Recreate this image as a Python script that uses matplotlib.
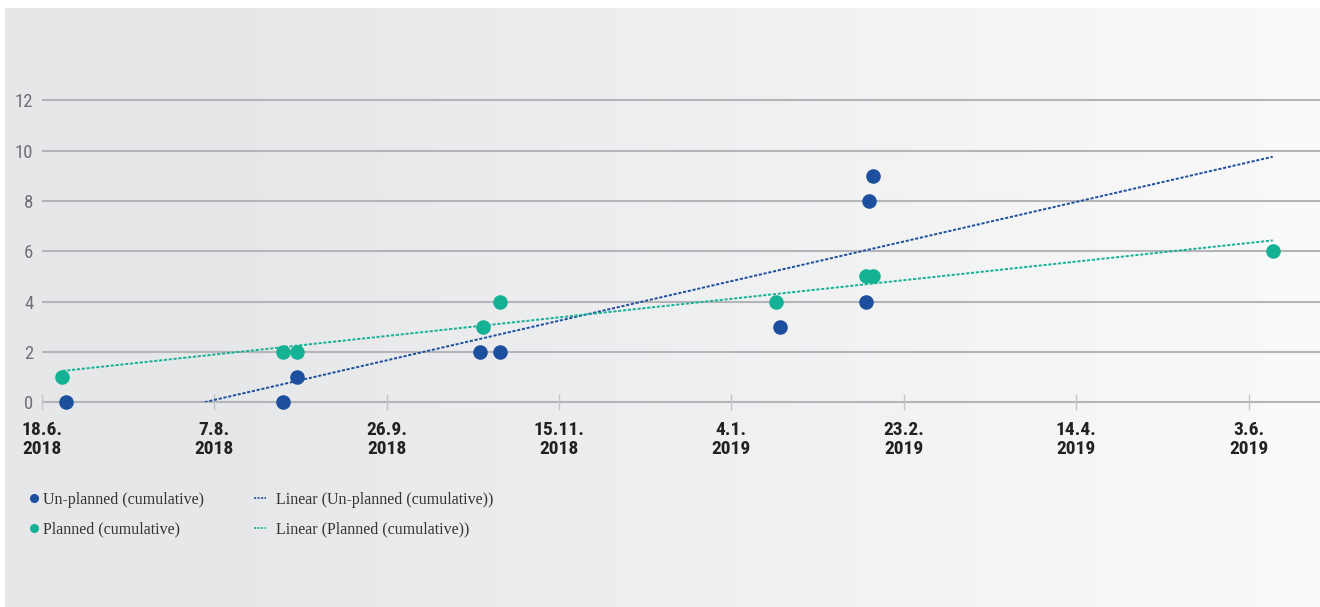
import datetime as dt
import numpy as np
import matplotlib
matplotlib.use("Agg")
import matplotlib.pyplot as plt
import matplotlib.dates as mdates
from matplotlib import font_manager
from matplotlib.patches import Rectangle

# data
unplanned_dates = ["2018-06-25", "2018-08-27", "2018-08-31", "2018-10-23", "2018-10-29",
                   "2019-01-18", "2019-02-12", "2019-02-13", "2019-02-14"]
unplanned_vals = [0, 0, 1, 2, 2, 3, 4, 8, 9]

planned_dates = ["2018-06-24", "2018-08-27", "2018-08-31", "2018-10-24", "2018-10-29",
                 "2019-01-17", "2019-02-12", "2019-02-14", "2019-06-10"]
planned_vals = [1, 2, 2, 3, 4, 4, 5, 5, 6]

tick_dates = ["2018-06-18", "2018-08-07", "2018-09-26", "2018-11-15",
              "2019-01-04", "2019-02-23", "2019-04-14", "2019-06-03"]
tick_labels = ["18.6.\n2018", "7.8.\n2018", "26.9.\n2018", "15.11.\n2018",
               "4.1.\n2019", "23.2.\n2019", "14.4.\n2019", "3.6.\n2019"]
y_ticks = [0, 2, 4, 6, 8, 10, 12]

labels = ["Un-planned (cumulative)", "Planned (cumulative)",
          "Linear (Un-planned (cumulative))", "Linear (Planned (cumulative))"]

BLUE = "#1d4f9f"
TEAL = "#15b195"
GRID = "#b4b5b8"


def pick(names):
    have = {f.name for f in font_manager.fontManager.ttflist}
    for n in names:
        if n in have:
            return n
    return "DejaVu Sans"


sans = pick(["Liberation Sans Narrow", "Roboto Condensed", "Roboto", "DejaVu Sans"])
serif = pick(["Liberation Serif", "DejaVu Serif"])

to_num = lambda ds: mdates.date2num([dt.datetime.strptime(d, "%Y-%m-%d") for d in ds])
ux, px_ = to_num(unplanned_dates), to_num(planned_dates)
tx = to_num(tick_dates)

fig = plt.figure(figsize=(13.2, 6.07), dpi=100)
fig.patch.set_facecolor("white")

# gradient panel behind everything
bg = fig.add_axes([5 / 1320, 0, 1315 / 1320, 599 / 607], zorder=0)
grad = np.linspace(0, 1, 256)
c0 = np.array([0.902, 0.906, 0.914])
c1 = np.array([0.980, 0.980, 0.980])
ramp = np.clip((grad - 0.15) / 0.85, 0, 1)
img = c0[None, :] * (1 - ramp[:, None]) + c1[None, :] * ramp[:, None]
bg.imshow(img[None, :, :], aspect="auto", extent=[0, 1, 0, 1])
bg.set_axis_off()

x0 = tx[0]
ax = fig.add_axes([41.7 / 1320, (607 - 422.4) / 607, 1278.3 / 1320, 342.2 / 607], zorder=1)
ax.patch.set_alpha(0)
ax.set_xlim(x0, x0 + 370.7)
ax.set_ylim(-0.8, 12.8)

for y in y_ticks:
    ax.axhline(y, color=GRID, lw=1.5, zorder=1)

# linear trends over the date span of the data
xs = np.array([min(px_.min(), ux.min()), max(px_.max(), ux.max())])
clip = Rectangle((x0, 0), 400, 13, transform=ax.transData)
for xv, yv, col in [(ux, unplanned_vals, BLUE), (px_, planned_vals, TEAL)]:
    k, b = np.polyfit(xv - x0, yv, 1)
    ln, = ax.plot(xs, k * (xs - x0) + b, color=col, lw=1.4, ls=(0, (1.6, 0.9)), zorder=2)
    ln.set_clip_path(clip)

su = ax.scatter(ux, unplanned_vals, s=110, color=BLUE, zorder=3, linewidths=0)
sp = ax.scatter(px_, planned_vals, s=110, color=TEAL, zorder=3, linewidths=0)

for s in ["top", "right", "left", "bottom"]:
    ax.spines[s].set_visible(False)
ax.spines["bottom"].set_position(("data", 0))

ax.set_xticks(tx)
ax.set_xticklabels(tick_labels, fontfamily=sans, fontweight="bold", fontsize=14,
                   color="#222222", linespacing=1.05)
ax.tick_params(axis="x", direction="inout", length=11, width=1, color="#c4c5c8", pad=8)
ax.set_yticks(y_ticks)
ax.set_yticklabels([str(v) for v in y_ticks], fontfamily=sans, fontsize=13.5, color="#707174")
ax.tick_params(axis="y", length=0, pad=6)

# legend in two blocks
h1 = [plt.Line2D([], [], ls="", marker="o", ms=5.5, color=BLUE),
      plt.Line2D([], [], ls="", marker="o", ms=5.5, color=TEAL)]
h2 = [plt.Line2D([], [], color=BLUE, lw=1.2, ls=(0, (1.3, 0.8))),
      plt.Line2D([], [], color=TEAL, lw=1.2, ls=(0, (1.3, 0.8)))]
lkw = dict(frameon=False, prop={"family": serif, "size": 11.5},
           labelcolor="#333333", labelspacing=0.85, borderaxespad=0, borderpad=0)
leg1 = fig.legend(h1, labels[:2], loc="upper left", bbox_to_anchor=(29 / 1320, 1 - 492 / 607),
                  handlelength=0.6, handletextpad=0.3, **lkw)
leg2 = fig.legend(h2, labels[2:], loc="upper left", bbox_to_anchor=(254 / 1320, 1 - 492 / 607),
                  handlelength=0.75, handletextpad=0.6, **lkw)

fig.savefig("out.png", dpi=100)
